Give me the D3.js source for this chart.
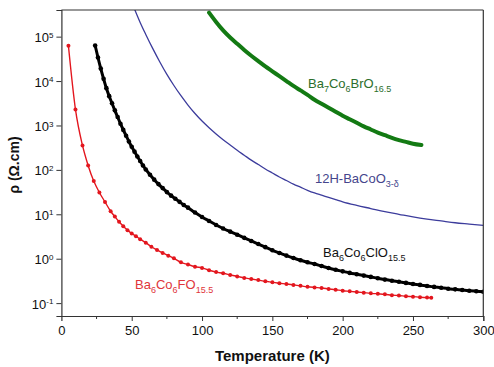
<!DOCTYPE html>
<html>
<head>
<meta charset="utf-8">
<script src="https://cdn.jsdelivr.net/npm/d3@7"></script>
<style>
  body { margin: 0; background: #fff; }
  text { font-family: "Liberation Sans", Arial, sans-serif; }
</style>
</head>
<body>
<svg id="chart" width="494" height="367"></svg>
<script>
// temperature (K) / resistivity (ohm.cm)
var redT = [5, 10, 15, 19, 23, 27, 31, 35, 38, 41, 44, 47, 50, 53, 56, 60, 64, 68, 72, 76, 80, 85, 90, 95, 100,
    105, 110, 115, 120, 125, 130, 135, 140, 145, 150, 155, 160, 165, 170, 175, 180, 185, 190, 195, 200,
    205, 210, 215, 220, 225, 230, 235, 240, 245, 250, 255, 260, 263];
var redRho = [62000, 2300, 355, 126, 56, 31, 19, 11.7, 8.9, 6.8, 5.4, 4.4, 3.7, 3.2, 2.75, 2.3, 1.86, 1.58, 1.35, 1.17, 1.02, 0.83, 0.74, 0.66, 0.62,
    0.55, 0.50, 0.47, 0.43, 0.40, 0.37, 0.35, 0.33, 0.31, 0.295, 0.28, 0.27, 0.257, 0.245, 0.234, 0.226, 0.219, 0.209, 0.20, 0.19,
    0.184, 0.178, 0.172, 0.166, 0.162, 0.158, 0.151, 0.148, 0.143, 0.14, 0.136, 0.133, 0.132];

var blackT = [24, 26, 28, 30, 32, 34, 36, 38, 40, 42, 44, 46, 48, 50, 52, 54, 56, 58, 60, 63, 66, 69, 72, 75, 78, 81, 84, 87, 90, 95,
    100, 105, 110, 115, 120, 125, 130, 135, 140, 145, 150, 155, 160, 165, 170, 175, 180, 185, 190, 195, 200,
    205, 210, 215, 220, 225, 230, 235, 240, 245, 250, 255, 260, 265, 270, 275, 280, 285, 290, 295, 300];
var blackLog = [4.80, 4.53, 4.28, 4.05, 3.84, 3.66, 3.50, 3.34, 3.19, 3.04, 2.90, 2.77, 2.64, 2.52, 2.41, 2.30, 2.20, 2.10, 2.01, 1.89, 1.78, 1.68, 1.59, 1.50, 1.42, 1.35, 1.28, 1.21, 1.15, 1.04,
    0.94, 0.85, 0.76, 0.68, 0.61, 0.54, 0.47, 0.40, 0.33, 0.26, 0.19, 0.13, 0.07, 0.015, -0.035, -0.08, -0.12, -0.165, -0.21, -0.25, -0.285,
    -0.32, -0.35, -0.38, -0.41, -0.44, -0.47, -0.495, -0.52, -0.545, -0.57, -0.59, -0.615, -0.635, -0.655, -0.675, -0.69, -0.705, -0.72, -0.733, -0.745];

var blueT = [52, 56, 60, 65, 70, 75, 80, 85, 90, 95, 100, 105, 110, 115, 120, 125, 130, 135, 140, 145, 150, 155, 160, 165, 170,
    175, 180, 185, 190, 195, 200, 210, 220, 230, 240, 250, 260, 270, 280, 290, 300];
var blueLog = [5.62, 5.32, 5.05, 4.73, 4.43, 4.15, 3.90, 3.67, 3.46, 3.27, 3.10, 2.95, 2.81, 2.68, 2.56, 2.44, 2.33, 2.22, 2.12, 2.02, 1.93, 1.84, 1.76, 1.68, 1.61,
    1.54, 1.48, 1.43, 1.38, 1.33, 1.28, 1.20, 1.13, 1.06, 1.00, 0.94, 0.89, 0.85, 0.81, 0.78, 0.75];

var greenT = [105, 110, 115, 120, 125, 130, 135, 140, 145, 150, 155, 160, 165, 170, 175, 180, 185, 190, 195, 200,
    205, 210, 215, 220, 225, 230, 235, 240, 245, 250, 256];
var greenLog = [5.54, 5.33, 5.14, 4.98, 4.84, 4.70, 4.57, 4.45, 4.33, 4.22, 4.11, 4.00, 3.89, 3.79, 3.69, 3.58, 3.49, 3.40, 3.31, 3.22,
    3.14, 3.06, 2.98, 2.91, 2.84, 2.78, 2.72, 2.67, 2.63, 2.59, 2.56];

var xTicks = [0, 50, 100, 150, 200, 250, 300];
var yExponents = [-1, 0, 1, 2, 3, 4, 5];

var svg = d3.select("#chart");
var mLeft = 61.4, mRight = 483.3, mTop = 10, mBottom = 316;

var x = d3.scaleLinear().domain([0, 300]).range([mLeft, mRight]);
var y = d3.scaleLog().domain([Math.pow(10, -1.29), Math.pow(10, 5.6)]).range([mBottom, mTop]);

function zip(ts, vs, isLog) {
    return ts.map(function(t, i) { return { t: t, r: isLog ? Math.pow(10, vs[i]) : vs[i] }; });
}

var red = zip(redT, redRho, false);
var black = zip(blackT, blackLog, true);
var blue = zip(blueT, blueLog, true);
var green = zip(greenT, greenLog, true);

svg.append("clipPath").attr("id", "clip")
    .append("rect").attr("x", mLeft).attr("y", mTop).attr("width", mRight - mLeft).attr("height", mBottom - mTop);

var line = d3.line()
    .x(function(d) { return x(d.t); })
    .y(function(d) { return y(d.r); })
    .curve(d3.curveMonotoneX);

var plot = svg.append("g").attr("clip-path", "url(#clip)");

plot.append("path").datum(blue).attr("d", line)
    .attr("fill", "none").attr("stroke", "#3c3c9c").attr("stroke-width", 1.3);

plot.append("path").datum(green).attr("d", line)
    .attr("fill", "none").attr("stroke", "#137a13").attr("stroke-width", 4).attr("stroke-linecap", "round");

plot.append("path").datum(black).attr("d", line)
    .attr("fill", "none").attr("stroke", "#000").attr("stroke-width", 3);
plot.selectAll(".bdot").data(black).enter().append("circle")
    .attr("class", "bdot")
    .attr("cx", function(d) { return x(d.t); })
    .attr("cy", function(d) { return y(d.r); })
    .attr("r", 2.3).attr("fill", "#000");

plot.append("path").datum(red).attr("d", line)
    .attr("fill", "none").attr("stroke", "#e3161e").attr("stroke-width", 1.4);
plot.selectAll(".rdot").data(red).enter().append("circle")
    .attr("class", "rdot")
    .attr("cx", function(d) { return x(d.t); })
    .attr("cy", function(d) { return y(d.r); })
    .attr("r", 2).attr("fill", "#e3161e");

// frame
svg.append("line").attr("x1", mLeft).attr("x2", mRight).attr("y1", mTop).attr("y2", mTop)
    .attr("stroke", "#333").attr("stroke-width", 1.2);
svg.append("line").attr("x1", mRight).attr("x2", mRight).attr("y1", mTop).attr("y2", mBottom)
    .attr("stroke", "#333").attr("stroke-width", 1.2);

// x axis
var xAxis = d3.axisBottom(x).tickValues(xTicks).tickSize(5).tickPadding(5);
var gx = svg.append("g").attr("transform", "translate(0," + mBottom + ")").call(xAxis);
gx.selectAll(".tick").filter(function(d) { return d === 0; }).select("line").remove();
gx.append("g").selectAll("line").data(d3.range(25, 300, 50)).enter().append("line")
    .attr("x1", function(d) { return x(d); }).attr("x2", function(d) { return x(d); })
    .attr("y1", 0).attr("y2", 3).attr("stroke", "#333");
gx.select(".domain").attr("stroke", "#333").attr("stroke-width", 1.2);
gx.selectAll(".tick line").attr("stroke", "#333");
gx.selectAll("text").attr("font-size", 13).attr("fill", "#111")
    .attr("font-family", "Liberation Sans, Arial, sans-serif");

// y axis
var yAxis = d3.axisLeft(y).tickValues(yExponents.map(function(e) { return Math.pow(10, e); }))
    .tickSize(5).tickFormat("");
var gy = svg.append("g").attr("transform", "translate(" + mLeft + ",0)").call(yAxis);
gy.select(".domain").attr("stroke", "#333").attr("stroke-width", 1.2);
gy.selectAll(".tick line").attr("stroke", "#333");
gy.selectAll(".tick").each(function(d) {
    var e = Math.round(Math.log10(d));
    var t = d3.select(this).append("text")
        .attr("x", -8).attr("dy", "0.38em").attr("text-anchor", "end")
        .attr("fill", "#111").attr("font-size", 13)
        .attr("font-family", "Liberation Sans, Arial, sans-serif");
    t.append("tspan").text("10");
    t.append("tspan").attr("dy", "-0.55em").attr("font-size", 8).text(e);
});

// axis titles
svg.append("text").attr("x", (mLeft + mRight) / 2).attr("y", 361)
    .attr("text-anchor", "middle").attr("font-size", 15).attr("font-weight", "bold")
    .attr("fill", "#111").text("Temperature (K)");
svg.append("text").attr("transform", "translate(19,165) rotate(-90)")
    .attr("text-anchor", "middle").attr("font-size", 14).attr("font-weight", "bold")
    .attr("fill", "#111").text("ρ (Ω.cm)");

// series labels
function formula(xp, yp, color, parts) {
    var t = svg.append("text").attr("x", xp).attr("y", yp).attr("fill", color).attr("font-size", 13);
    parts.forEach(function(p) {
        if (p[1]) {
            t.append("tspan").attr("font-size", 9).attr("dy", 4).text(p[0]);
        } else {
            t.append("tspan").attr("dy", p[2] ? -4 : 0).text(p[0]);
        }
    });
}
formula(308, 88, "#2b6e2b", [["Ba"], ["7", 1], ["Co", 0, 1], ["6", 1], ["BrO", 0, 1], ["16.5", 1]]);
formula(315, 183, "#45458c", [["12H-BaCoO"], ["3-δ", 1]]);
formula(323, 257, "#111", [["Ba"], ["6", 1], ["Co", 0, 1], ["6", 1], ["ClO", 0, 1], ["15.5", 1]]);
formula(135, 289, "#e0353a", [["Ba"], ["6", 1], ["Co", 0, 1], ["6", 1], ["FO", 0, 1], ["15.5", 1]]);
</script>
</body>
</html>
